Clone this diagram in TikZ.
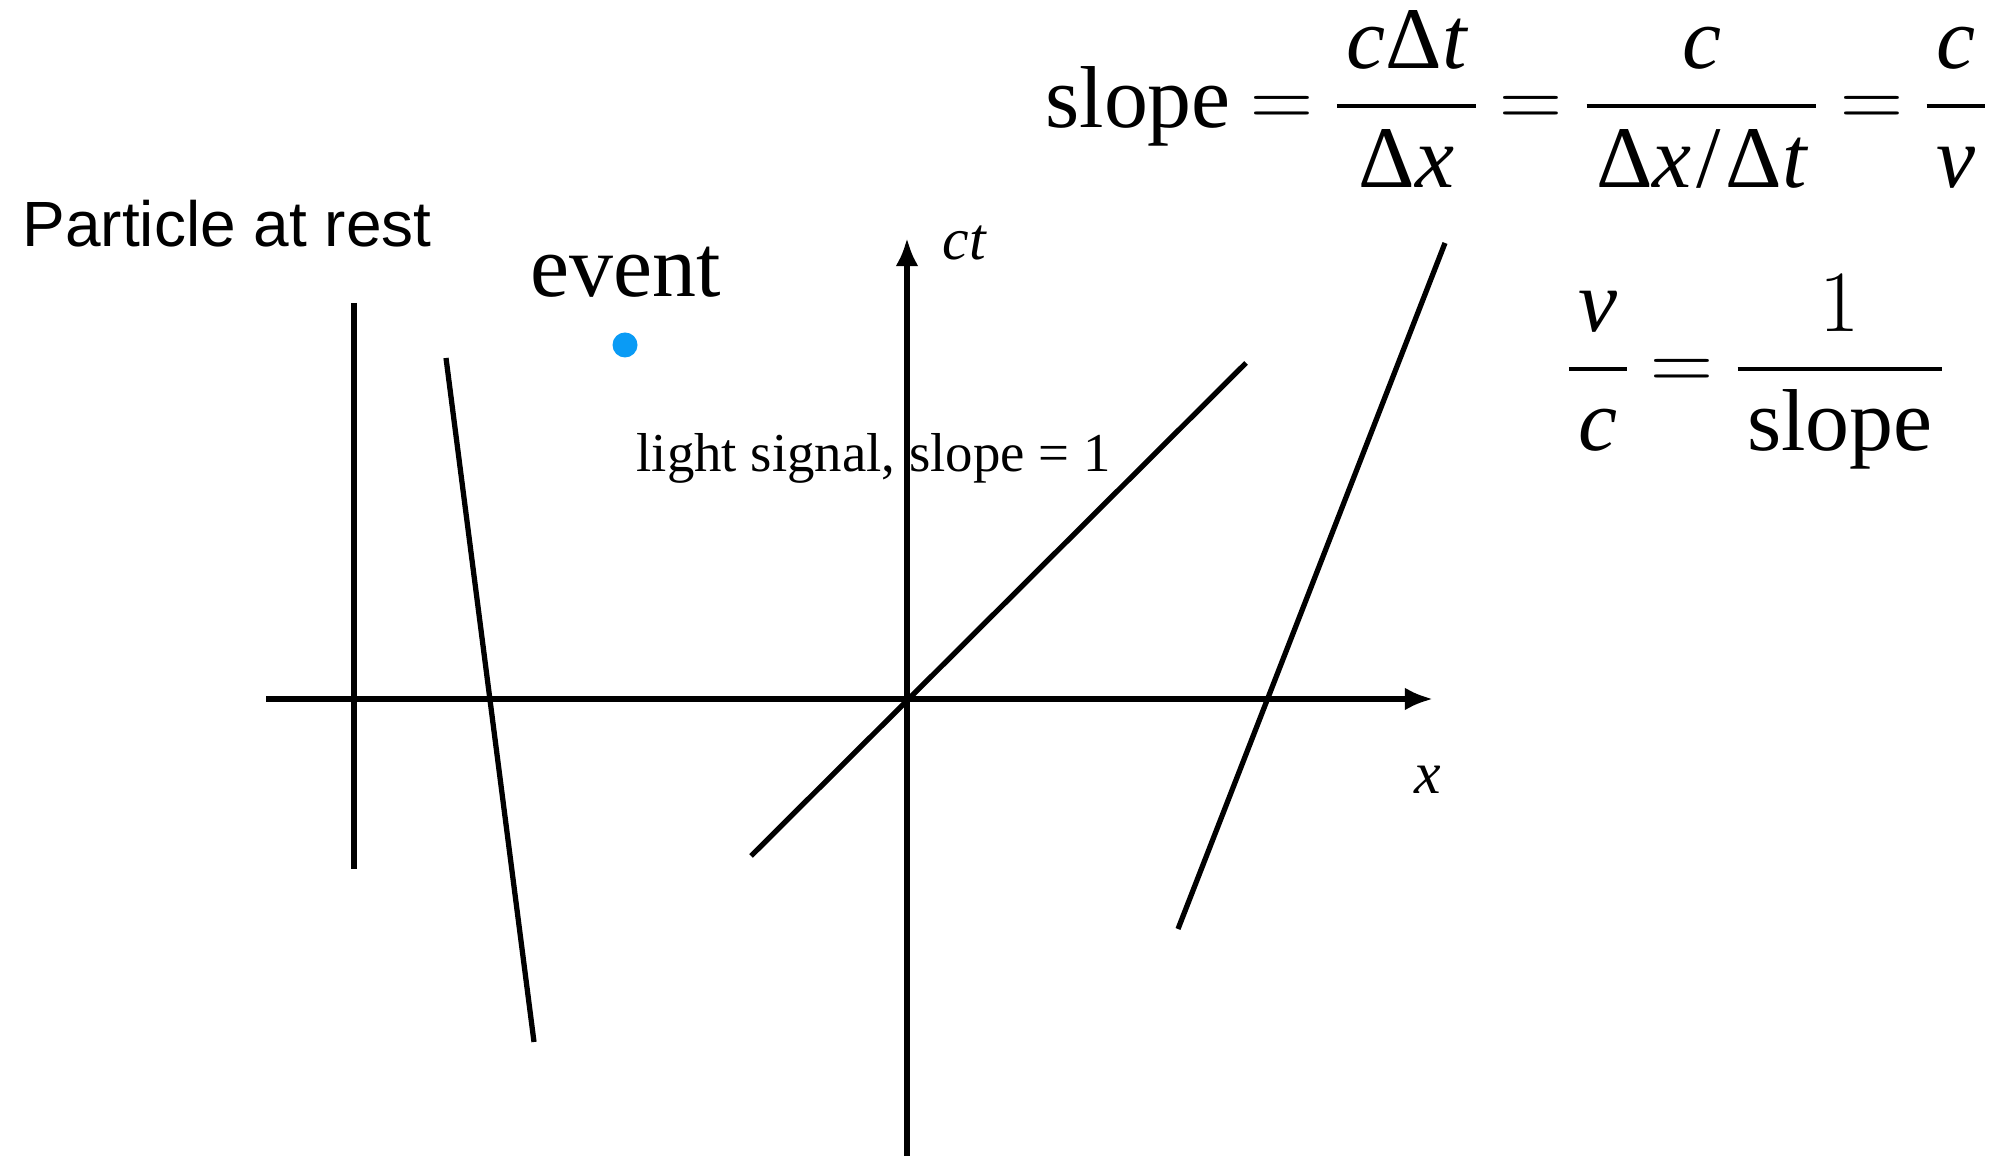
\documentclass[tikz,border=0pt]{standalone}
\usepackage{amsmath}
\usepackage{fontspec}
\setmainfont{Liberation Serif}
\newfontfamily\restfont{Liberation Sans}
\usetikzlibrary{arrows.meta}
\definecolor{eventBlue}{HTML}{0A9BF5}
\newcommand{\vi}[1]{\textit{#1}}
\newcommand{\dl}{\text{Δ}}
\newcommand{\fpad}[1]{\mkern2mu#1\mkern2mu}

\begin{document}
\begin{tikzpicture}[>={Latex[length=8pt,width=6.5pt]}, line width=1.5pt]

    \useasboundingbox (0,0) rectangle (20.04,11.56);

    % axes
    \draw[->] (2.66,4.57) -- (14.33,4.57);
    \draw[->] (9.07,0) -- (9.07,9.18);
    \node (ctlbl) at (9.65,9.13) {\fontsize{17}{20}\selectfont\vi{ct}};
    \node (xlbl) at (14.28,3.76) {\fontsize{17}{20}\selectfont\vi{x}};

    % world lines
    \draw (3.54,8.53) -- (3.54,2.87);
    \draw (4.46,7.98) -- (5.34,1.14);
    \draw (7.51,3.00) -- (12.46,7.93);
    \draw (14.45,9.13) -- (11.78,2.27);

    % event
    \fill[eventBlue] (6.25,8.11) circle (0.125);
    \node (eventlbl) at (6.26,8.84) {\fontsize{25}{30}\selectfont event};

    % labels
    \node[anchor=west, inner sep=0] (restlbl) at (0.20,9.32) {\restfont\fontsize{18.2}{22}\selectfont Particle at rest};
    \node[anchor=west, inner sep=0] (lightlbl) at (6.34,6.98) {\fontsize{15.6}{19}\selectfont light signal, slope = 1};

    % formulas
    \node[anchor=base east, inner sep=0] (slopeeq) at (19.92,10.28) {\fontsize{25}{30}\selectfont\thickmuskip=4mu
        $\text{slope} = \dfrac{\fpad{\vi{c}\dl\vi{t}}}{\dl\vi{x}} = \dfrac{\vi{c}}{\fpad{\dl\vi{x}\mkern1mu\text{/}\mkern1mu\dl\vi{t}}} = \dfrac{\fpad{\vi{c}}}{\vi{v}}$};
    \node[anchor=base west, inner sep=0] (veloeq) at (15.62,7.65) {\fontsize{25}{30}\selectfont\thickmuskip=4mu
        $\dfrac{\fpad{\vi{v}}}{\vi{c}} = \dfrac{1}{\fpad{\text{slope}}}$};

\end{tikzpicture}
\end{document}
